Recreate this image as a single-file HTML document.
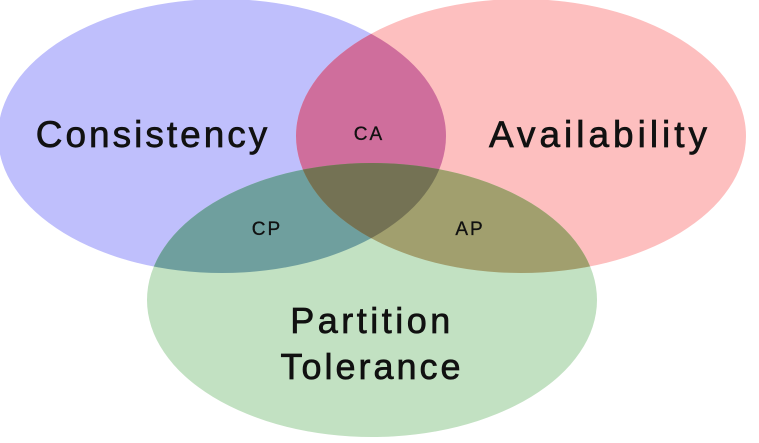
<!DOCTYPE html>
<html><head><meta charset="utf-8"><style>
html,body{margin:0;padding:0;background:#fff;width:759px;height:443px;overflow:hidden}
</style></head><body>
<svg width="759" height="443" viewBox="0 0 759 443" xmlns="http://www.w3.org/2000/svg">
<defs>
<clipPath id="cb"><ellipse cx="222" cy="136" rx="224" ry="137"/></clipPath>
<clipPath id="cr"><ellipse cx="521" cy="136" rx="225" ry="137"/></clipPath>
<clipPath id="cg"><ellipse cx="372" cy="300" rx="225" ry="137"/></clipPath>
</defs>
<ellipse cx="222" cy="136" rx="224" ry="137" fill="#bfbffc"/>
<ellipse cx="521" cy="136" rx="225" ry="137" fill="#fdbfbf"/>
<ellipse cx="372" cy="300" rx="225" ry="137" fill="#c2e1c2"/>
<g clip-path="url(#cb)">
  <ellipse cx="521" cy="136" rx="225" ry="137" fill="#cf6e9c"/>
  <ellipse cx="372" cy="300" rx="225" ry="137" fill="#6f9f9e"/>
</g>
<g clip-path="url(#cr)"><g clip-path="url(#cg)"><rect width="759" height="443" fill="#a19f6e"/></g></g>
<g clip-path="url(#cr)"><g clip-path="url(#cg)"><g clip-path="url(#cb)"><rect width="759" height="443" fill="#747254"/></g></g></g>
<g font-family="Liberation Sans, sans-serif" fill="#111" stroke="#111" text-anchor="middle">
<text x="153" y="147" font-size="37" stroke-width="0.7" letter-spacing="3">Consistency</text>
<text x="600" y="147" font-size="37" stroke-width="0.7" letter-spacing="4">Availability</text>
<text x="369" y="140" font-size="19" stroke-width="0.3" letter-spacing="2">CA</text>
<text x="267" y="235" font-size="19" stroke-width="0.3" letter-spacing="2">CP</text>
<text x="470" y="235" font-size="19" stroke-width="0.3" letter-spacing="2">AP</text>
<text x="372" y="333" font-size="36" stroke-width="0.7" letter-spacing="3.5">Partition</text>
<text x="372" y="379" font-size="36" stroke-width="0.7" letter-spacing="3">Tolerance</text>
</g>
</svg>
</body></html>
